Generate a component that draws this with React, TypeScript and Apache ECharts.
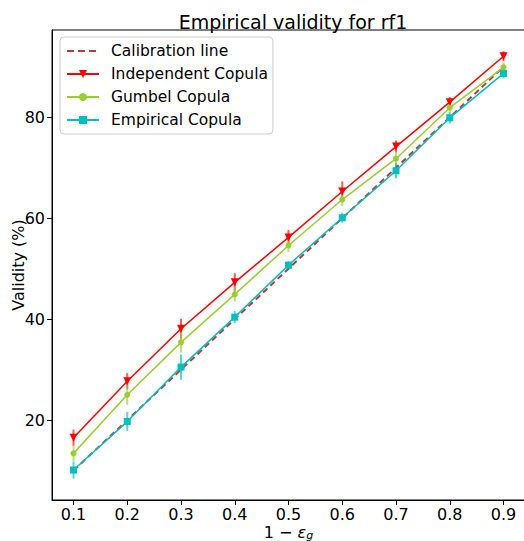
import React, { useEffect, useRef } from "react";
import * as echarts from "echarts";

const xValues = [0.1, 0.2, 0.3, 0.4, 0.5, 0.6, 0.7, 0.8, 0.9];
const calibration = [10, 20, 30, 40, 50, 60, 70, 80, 90];
const independent = [16.5, 27.7, 38.1, 47.3, 56.2, 65.3, 74.2, 83.0, 92.1];
const independentErr = [1.6, 1.6, 2.0, 1.8, 1.5, 2.0, 1.2, 1.0, 1.0];
const gumbel = [13.4, 25.0, 35.4, 44.9, 54.6, 63.7, 71.8, 81.9, 89.9];
const gumbelErr = [1.5, 2.0, 2.0, 1.4, 1.3, 1.3, 1.4, 1.0, 1.0];
const empirical = [10.1, 19.7, 30.5, 40.4, 50.7, 60.1, 69.4, 79.9, 88.7];
const empiricalErr = [1.7, 1.9, 2.5, 1.2, 0.8, 1.0, 1.5, 1.1, 1.0];
const xTicks = [0.1, 0.2, 0.3, 0.4, 0.5, 0.6, 0.7, 0.8, 0.9];
const yTicks = [20, 40, 60, 80];

const FONT = "DejaVu Sans";

function pairs(ys: number[]) {
  return xValues.map((x, i) => [x, ys[i]]);
}
function errData(ys: number[], es: number[]) {
  return xValues.map((x, i) => [x, ys[i] - es[i], ys[i] + es[i]]);
}
function errSeries(name: string, ys: number[], es: number[], color: string) {
  return {
    type: "custom",
    name: name + " err",
    data: errData(ys, es),
    z: 1,
    silent: true,
    renderItem: (params: any, api: any) => {
      const p1 = api.coord([api.value(0), api.value(1)]);
      const p2 = api.coord([api.value(0), api.value(2)]);
      return {
        type: "line",
        shape: { x1: p1[0], y1: p1[1], x2: p2[0], y2: p2[1] },
        style: { stroke: color, lineWidth: 2, opacity: 0.65 },
      };
    },
  };
}

export default function App() {
  const ref = useRef<HTMLDivElement>(null);
  useEffect(() => {
    if (!ref.current) return;
    const chart = echarts.init(ref.current, undefined, { renderer: "svg" });
    const red = "#ff0000";
    const green = "#9acd32";
    const cyan = "#00bfbf";
    chart.setOption({
      animation: false,
      backgroundColor: "#ffffff",
      title: {
        text: "Empirical validity for rf1",
        left: 288,
        textAlign: "center",
        top: 7,
        textStyle: { fontFamily: FONT, fontSize: 19, fontWeight: "normal", color: "#000" },
      },
      legend: {
        orient: "vertical",
        left: 60,
        top: 37,
        padding: [6, 5, 6, 6],
        itemGap: 7,
        itemWidth: 32,
        itemHeight: 10,
        backgroundColor: "#fff",
        borderColor: "#cccccc",
        borderWidth: 1,
        borderRadius: 4,
        textStyle: { fontFamily: FONT, fontSize: 15.5, color: "#000", padding: [0, 0, 0, 7] },
        data: [
          { name: "Calibration line", itemStyle: { opacity: 0 }, lineStyle: { width: 2, type: [7, 4], color: "#b22222" } },
          "Independent Copula",
          "Gumbel Copula",
          "Empirical Copula",
        ],
      },
      grid: {
        left: 52,
        top: 30,
        width: 473,
        height: 470,
        show: true,
        borderColor: "#000",
        borderWidth: 1,
        containLabel: false,
        outerBoundsMode: "none",
      },
      xAxis: {
        type: "value",
        min: 0.06,
        max: 0.94,
        axisLine: { show: true, lineStyle: { color: "#000", width: 1 } },
        axisTick: { show: true, length: 5, lineStyle: { color: "#000" }, customValues: xTicks },
        axisLabel: {
          customValues: xTicks,
          formatter: (v: number) => v.toFixed(1),
          fontFamily: FONT,
          fontSize: 16,
          color: "#000",
          margin: 6,
          lineHeight: 17,
        },
        splitLine: { show: false },
        name: "1 − {i|ε}{s|g}",
        nameLocation: "middle",
        nameMoveOverlap: false,
        nameGap: 24,
        nameTextStyle: {
          fontFamily: FONT,
          fontSize: 16,
          color: "#000",
          verticalAlign: "top",
          lineHeight: 17,
          rich: {
            i: { fontFamily: FONT, fontSize: 16, fontStyle: "italic", color: "#000", lineHeight: 17 },
            s: { fontFamily: FONT, fontSize: 11, fontStyle: "italic", color: "#000", verticalAlign: "bottom", lineHeight: 12, padding: [4, 0, 0, 0] },
          },
        },
      },
      yAxis: {
        type: "value",
        min: 4.16,
        max: 97.3,
        axisLine: { show: true, lineStyle: { color: "#000", width: 1 } },
        axisTick: { show: true, length: 5, lineStyle: { color: "#000" }, customValues: yTicks },
        axisLabel: {
          customValues: yTicks,
          fontFamily: FONT,
          fontSize: 16,
          color: "#000",
          margin: 7,
        },
        splitLine: { show: false },
        name: "Validity (%)",
        nameLocation: "middle",
        nameMoveOverlap: false,
        nameGap: 26,
        nameTextStyle: { fontFamily: FONT, fontSize: 16, color: "#000" },
      },
      series: [
        errSeries("Independent Copula", independent, independentErr, red),
        errSeries("Gumbel Copula", gumbel, gumbelErr, green),
        errSeries("Empirical Copula", empirical, empiricalErr, cyan),
        {
          type: "line",
          name: "Calibration line",
          data: pairs(calibration),
          symbol: "none",
          z: 3,
          lineStyle: { color: "#b22222", width: 2, type: [6, 4], opacity: 0.9 },
          itemStyle: { color: "#b22222" },
        },
        {
          type: "line",
          name: "Independent Copula",
          data: pairs(independent),
          symbol: "triangle",
          symbolRotate: 180,
          symbolSize: 8,
          z: 4,
          lineStyle: { color: red, width: 1.5 },
          itemStyle: { color: red },
        },
        {
          type: "line",
          name: "Gumbel Copula",
          data: pairs(gumbel),
          symbol: "circle",
          symbolSize: 6,
          z: 4,
          lineStyle: { color: green, width: 1.5 },
          itemStyle: { color: green },
        },
        {
          type: "line",
          name: "Empirical Copula",
          data: pairs(empirical),
          symbol: "rect",
          symbolSize: 7,
          z: 4,
          lineStyle: { color: cyan, width: 1.5 },
          itemStyle: { color: cyan },
        },
      ],
    });
    return () => chart.dispose();
  }, []);
  return <div ref={ref} style={{ width: 524, height: 541, position: "absolute", left: 0, top: 0 }} />;
}
